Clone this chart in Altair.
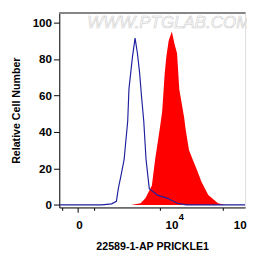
import altair as alt
import pandas as pd
import math

# Decade positions on the display scale (10^3 -> 3, 10^4 -> 4, 10^5 -> 5; "0" sits at ZERO_POS)
blue_x = [2.38, 2.887, 3.0, 3.142, 3.213, 3.241, 3.284, 3.326, 3.379, 3.397, 3.45, 3.487,
          3.521, 3.553, 3.582, 3.614, 3.648, 3.695, 3.823, 3.965, 4.106, 4.234, 5.1]
blue_y = [0, 0, 0, 0.6, 2.0, 8.9, 16.8, 24.8, 46, 63.5, 81.6, 91.5,
          83.2, 72.6, 59.3, 46, 24.8, 8.9, 5.2, 3.6, 0.9, 0, 0]

red_x = [3.426, 3.567, 3.638, 3.733, 3.78, 3.851, 3.884, 3.922, 3.946, 3.979, 4.026, 4.064,
         4.102, 4.135, 4.206, 4.23, 4.277, 4.333, 4.39, 4.461, 4.56, 4.702, 4.816]
red_y = [0, 0.9, 3.6, 10.6, 24.8, 42.3, 51.2, 72.6, 81.6, 90, 95.2, 88.4,
         83.2, 63.5, 48, 40.9, 30.1, 24.8, 19.5, 12.6, 5.4, 0.9, 0]

ZERO_POS = 2.645
x_major = [ZERO_POS, 3, 4, 5]
x_minor_lin = [2.418, 2.461, 2.504, 2.539, 2.574, 2.603, 2.617, 2.631, 2.66, 2.674, 2.688,
               2.723, 2.759, 2.801, 2.844, 2.887, 2.929]
x_labels_pos = [ZERO_POS, 4, 5]
x_labels_base = ["0", "10", "10"]
x_labels_sup = ["", "4", "5"]
y_ticks = list(range(0, 101, 5))

x_minor_log = [d + math.log10(k) for d in (3, 4) for k in range(2, 10)]
x_ticks = sorted(x_major + x_minor_lin + x_minor_log)

XDOM = [2.376, 5.099]
YDOM = [-1.4, 105.3]
FONT = "Liberation Sans"

blue = pd.DataFrame({"x": blue_x, "y": blue_y})
red = pd.DataFrame({"x": red_x, "y": red_y})
labs = pd.DataFrame({"x": x_labels_pos, "base": x_labels_base, "sup": x_labels_sup})

major_test = "indexof([" + ",".join(str(v) for v in x_major) + "], datum.value) >= 0"

xscale = alt.Scale(domain=XDOM, nice=False, zero=False)
yscale = alt.Scale(domain=YDOM, nice=False, zero=False)

xaxis = alt.Axis(values=x_ticks, labels=False, grid=False, domainColor="black",
                 tickColor="black", domainWidth=1,
                 tickSize={"condition": {"test": major_test, "value": 5}, "value": 3},
                 title="22589-1-AP PRICKLE1", titleFont=FONT, titleFontSize=11,
                 titleFontWeight="bold", titleColor="black", titlePadding=29)
yaxis = alt.Axis(values=y_ticks, grid=False, domainColor="black", tickColor="black",
                 tickSize={"condition": {"test": "datum.value % 20 == 0", "value": 6}, "value": 3},
                 labelExpr="datum.value % 20 == 0 ? datum.value : ''",
                 labelFont=FONT, labelFontSize=12, labelFontWeight="bold", labelColor="black",
                 labelPadding=2,
                 title="Relative Cell Number", titleFont=FONT, titleFontSize=11,
                 titleFontWeight="bold", titleColor="black", titlePadding=11)

red_area = alt.Chart(red).mark_area(color="#ff0000", opacity=1, clip=True).encode(
    x=alt.X("x:Q", scale=xscale, axis=xaxis),
    y=alt.Y("y:Q", scale=yscale, axis=yaxis),
    y2=alt.datum(0),
)

blue_line = alt.Chart(blue).mark_line(color="#1f1f9e", strokeWidth=1.2, clip=True).encode(
    x=alt.X("x:Q", scale=xscale),
    y=alt.Y("y:Q", scale=yscale),
)

top_line = alt.Chart(blue).mark_rule(color="#888888", strokeWidth=1).encode(
    x=alt.value(0), x2=alt.value(192), y=alt.value(0)
)

watermark = alt.Chart(pd.DataFrame({"t": ["WWW.PTGLAB.COM"]})).mark_text(
    font=FONT, fontSize=17.5, fontStyle="italic", align="left", baseline="middle",
    fill="white", stroke="#cccccc", strokeWidth=0.6
).encode(x=alt.value(29), y=alt.value(11), text="t:N")

lab_base = alt.Chart(labs).mark_text(
    font=FONT, fontSize=12, fontWeight="bold", color="black", align="center",
    baseline="middle", dx=2
).encode(x=alt.X("x:Q", scale=xscale), y=alt.value(219), text="base:N")

lab_sup = alt.Chart(labs).mark_text(
    font=FONT, fontSize=9.5, fontWeight="bold", color="black", align="left",
    baseline="middle", dx=9
).encode(x=alt.X("x:Q", scale=xscale), y=alt.value(211), text="sup:N")

chart = alt.layer(watermark, red_area, blue_line, top_line, lab_base, lab_sup).properties(
    width=192, height=201,
    autosize=alt.AutoSizeParams(type="none"),
    padding={"left": 53, "top": 1, "right": 2, "bottom": 45},
).configure_view(stroke=None).configure(background="white")

chart.save("out.html", embed_options={"renderer": "svg", "actions": False})
